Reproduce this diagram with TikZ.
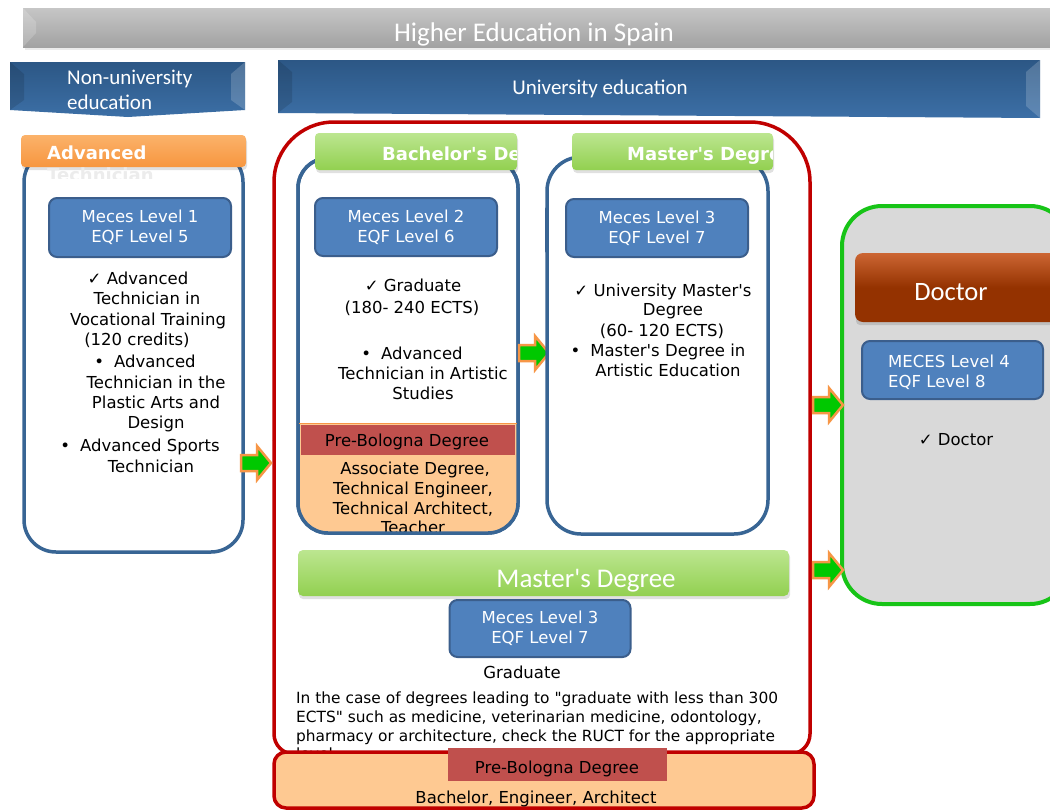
\documentclass[tikz,border=0pt]{standalone}
\usepackage{fontspec}
\setmainfont{DejaVu Sans}[Ligatures=TeXOff]
\newfontfamily\hdrfont{Carlito}
\definecolor{grayA}{HTML}{C6C6C6}
\definecolor{grayB}{HTML}{A2A2A2}
\definecolor{banA}{HTML}{2C5785}
\definecolor{banB}{HTML}{3C6FA6}
\definecolor{colblue}{HTML}{386594}
\definecolor{mecesfill}{HTML}{4F81BD}
\definecolor{mecesline}{HTML}{3B5E8C}
\definecolor{orA}{HTML}{FBB26A}
\definecolor{orB}{HTML}{F7963F}
\definecolor{grA}{HTML}{BCE690}
\definecolor{grB}{HTML}{92D050}
\definecolor{frame}{HTML}{C00000}
\definecolor{prebar}{HTML}{C0504D}
\definecolor{lightor}{HTML}{FEC992}
\definecolor{docgreen}{HTML}{17C417}
\definecolor{docgray}{HTML}{D9D9D9}
\definecolor{brA}{HTML}{CC6633}
\definecolor{brB}{HTML}{943200}
\definecolor{argreen}{HTML}{00C800}
\definecolor{arorange}{HTML}{F79646}
\tikzset{
  body/.style={font=\fontsize{16.5}{20.5}\selectfont, inner sep=0pt, anchor=base, text=black},
  small/.style={font=\fontsize{15.4}{19}\selectfont, inner sep=0pt, anchor=base west, text=black},
  tabtxt/.style={font=\bfseries\fontsize{18}{22}\selectfont, inner sep=0pt, anchor=base west, text=white},
  hdrtxt/.style={inner sep=0pt, anchor=base, text=white},
  column/.style={draw=colblue, line width=3.5pt, fill=white, rounded corners=32pt},
  mecesbox/.style={draw=mecesline, line width=2pt, fill=mecesfill, rounded corners=8pt,
     text=white, align=center, font=\fontsize{16.5}{20}\selectfont, inner sep=0pt},
  garrow/.style={fill=argreen, draw=arorange, line width=2.5pt, line join=miter},
  redline/.style={draw=frame, line width=3.5pt},
  tabshadow/.style={fill=black, opacity=0.12, rounded corners=4pt},
  bevellight/.style={fill=white, opacity=0.18},
  beveldark/.style={fill=black, opacity=0.12},
}
\newcommand\greenarrow[2]{\draw[garrow,shift={(#1,#2)}] (-15,-8) -- (1,-8) -- (1,-17) -- (15,0) -- (1,17) -- (1,8) -- (-15,8) -- cycle;}
\begin{document}
\begin{tikzpicture}[x=1pt,y=-1pt]
\useasboundingbox (0,0) rectangle (1050,809);
\clip (0,0) rectangle (1050,809);
\fill[white] (0,0) rectangle (1050,809);

% ---- banners
\fill[black, opacity=0.08] (25,11) rectangle (1062,50);
\shade[top color=grayA, bottom color=grayB] (23,8) rectangle (1062,47);
\fill[bevellight] (23,8) -- (36,22) -- (36,33) -- (23,47) -- cycle;
\node[hdrtxt, font=\hdrfont\fontsize{27}{30}\selectfont] (title) at (534,41) {Higher Education in Spain};

\shade[top color=banA, bottom color=banB] (10,62) -- (245,62) -- (245,110) -- (128,117) -- (10,110) -- cycle;
\fill[beveldark] (10,62) -- (24,74) -- (24,100) -- (10,110) -- cycle;
\fill[bevellight] (245,62) -- (231,74) -- (231,100) -- (245,110) -- cycle;
\node[hdrtxt, anchor=base west, font=\hdrfont\fontsize{21}{25}\selectfont] (nu1) at (67,84) {Non-university};
\node[hdrtxt, anchor=base west, font=\hdrfont\fontsize{21}{25}\selectfont] (nu2) at (67,109) {education};

\shade[top color=banA, bottom color=banB] (278,60) -- (1040,60) -- (1040,118) -- (278,113) -- cycle;
\fill[beveldark] (278,60) -- (292,72) -- (292,102) -- (278,113) -- cycle;
\fill[bevellight] (1040,60) -- (1026,72) -- (1026,106) -- (1040,118) -- cycle;
\node[hdrtxt, font=\hdrfont\fontsize{21}{25}\selectfont] (uni) at (600,94) {University education};

% ---- big red frame
\draw[redline, rounded corners=60pt] (274,440) -- (274,122) -- (810,122) -- (810,440);
\draw[redline, rounded corners=20pt] (810,440) -- (810,754) -- (274,754) -- (274,440);

% ---- left column
\draw[column] (24,150) rectangle (243,552);
\node[mecesbox, minimum width=182pt, minimum height=59pt] (m1) at (140,227.5) {Meces Level 1\\EQF Level 5};
\node[body] (l1) at (138,284) {✓ Advanced};
\node[body] (l2) at (147,304) {Technician in};
\node[body] (l3) at (148,325) {Vocational Training};
\node[body] (l4) at (137,345) {(120 credits)};
\node[body] (l5) at (145,367) {•\hspace{10pt}Advanced};
\node[body] (l6) at (156,388) {Technician in the};
\node[body] (l7) at (156,408) {Plastic Arts and};
\node[body] (l8) at (156,428) {Design};
\node[body] (l9) at (140,451) {•\hspace{10pt}Advanced Sports};
\node[body] (l10) at (151,472) {Technician};
\fill[tabshadow] (22,138) rectangle (247,170);
\shade[top color=orA, bottom color=orB, rounded corners=4pt] (21,135) rectangle (246,167);
\begin{scope}
\clip (21,135) rectangle (246,178);
\node[tabtxt] (tabA1) at (47,159) {Advanced};
\node[tabtxt, text=white!85!gray] (tabA2) at (47,181) {Technician};
\end{scope}
\greenarrow{256}{463}

% ---- bachelor column
\draw[column, rounded corners=30pt] (298,158) rectangle (518,533);
\begin{scope}
\clip[rounded corners=30pt] (298,158) rectangle (518,533);
\fill[lightor] (290,424) rectangle (530,540);
\end{scope}
\node[mecesbox, minimum width=182pt, minimum height=58pt] (m2) at (406,227) {Meces Level 2\\EQF Level 6};
\node[body] (b1) at (413,291) {✓ Graduate};
\node[body] (b2) at (412,313) {(180- 240 ECTS)};
\node[body] (b3) at (412,359) {•\hspace{10pt}Advanced};
\node[body] (b4) at (423,379) {Technician in Artistic};
\node[body] (b5) at (423,399) {Studies};
\node[body] (b7) at (415,474) {Associate Degree,};
\node[body] (b8) at (413,494) {Technical Engineer,};
\node[body] (b9) at (413,514) {Technical Architect,};
\node[body] (b10) at (413,533) {Teacher};
\draw[draw=colblue, line width=3.5pt, rounded corners=30pt] (298,158) rectangle (518,533);
\draw[arorange, line width=1.5pt] (299,423.5) -- (517,423.5);
\fill[prebar] (301,425) rectangle (515,455);
\node[body] (b6) at (407,446) {Pre-Bologna Degree};
\fill[tabshadow] (316,136) rectangle (518,173);
\shade[top color=grA, bottom color=grB, rounded corners=4pt] (315,133) rectangle (517,170);
\begin{scope}
\clip (315,133) rectangle (516,170);
\node[tabtxt] (tabB) at (382,160) {Bachelor's Degree};
\end{scope}
\greenarrow{534}{353}

% ---- master column
\fill[mecesline, rounded corners=2pt] (545,207) rectangle (553,253);
\draw[column, rounded corners=34pt] (547,157) rectangle (768,534);
\node[mecesbox, minimum width=182pt, minimum height=58pt] (m3) at (657,228) {Meces Level 3\\EQF Level 7};
\node[body] (c1) at (663,296) {✓ University Master's};
\node[body] (c2) at (673,315) {Degree};
\node[body] (c3) at (662,336) {(60- 120 ECTS)};
\node[body] (c4) at (658,356) {•\hspace{10pt}Master's Degree in};
\node[body] (c5) at (668,376) {Artistic Education};
\fill[tabshadow] (573,136) rectangle (774,173);
\shade[top color=grA, bottom color=grB, rounded corners=4pt] (572,133) rectangle (773,170);
\begin{scope}
\clip (572,133) rectangle (772,170);
\node[tabtxt] (tabC) at (627,160) {Master's Degree};
\end{scope}

% ---- long master bar
\fill[tabshadow] (299,553) rectangle (790,599);
\shade[top color=grA, bottom color=grB, rounded corners=5pt] (298,550) rectangle (789,596);
\node[hdrtxt, font=\hdrfont\fontsize{27}{30}\selectfont] (mbar) at (586,587) {Master's Degree};
\node[mecesbox, minimum width=181pt, minimum height=57pt] (m4) at (540,628.5) {Meces Level 3\\EQF Level 7};
\node[body] (g1) at (522,678) {Graduate};
\node[small] (p1) at (296,703) {In the case of degrees leading to "graduate with less than 300};
\node[small] (p2) at (296,722) {ECTS" such as medicine, veterinarian medicine, odontology,};
\node[small] (p3) at (296,741) {pharmacy or architecture, check the RUCT for the appropriate};
\node[small] (p4) at (296,759.5) {level.};

% ---- bottom box
\draw[redline, fill=lightor, rounded corners=12pt] (274,752) rectangle (814,808);
\fill[prebar] (448,748) rectangle (667,781);
\node[body] (q1) at (557,773) {Pre-Bologna Degree};
\node[body] (q2) at (536,803) {Bachelor, Engineer, Architect};

% ---- doctor column
\draw[draw=docgreen, line width=4pt, fill=docgray, rounded corners=40pt] (842,206) rectangle (1070,604);
\fill[tabshadow] (856,256) rectangle (1070,325);
\shade[top color=brA, bottom color=brB, middle color=brB, rounded corners=8pt] (855,253) rectangle (1070,322);
\node[hdrtxt, font=\hdrfont\fontsize{26.5}{30}\selectfont] (doc) at (951,300) {Doctor};
\draw[draw=mecesline, line width=2pt, fill=mecesfill, rounded corners=8pt] (862,341) rectangle (1043,399);
\node[inner sep=0pt, anchor=base west, text=white, font=\fontsize{16.5}{20}\selectfont] (d1) at (888,367) {MECES Level 4};
\node[inner sep=0pt, anchor=base west, text=white, font=\fontsize{16.5}{20}\selectfont] (d2) at (888,387) {EQF Level 8};
\node[body] (d3) at (956,445) {✓ Doctor};
\greenarrow{828}{405}
\greenarrow{828}{570}
\end{tikzpicture}
\end{document}
